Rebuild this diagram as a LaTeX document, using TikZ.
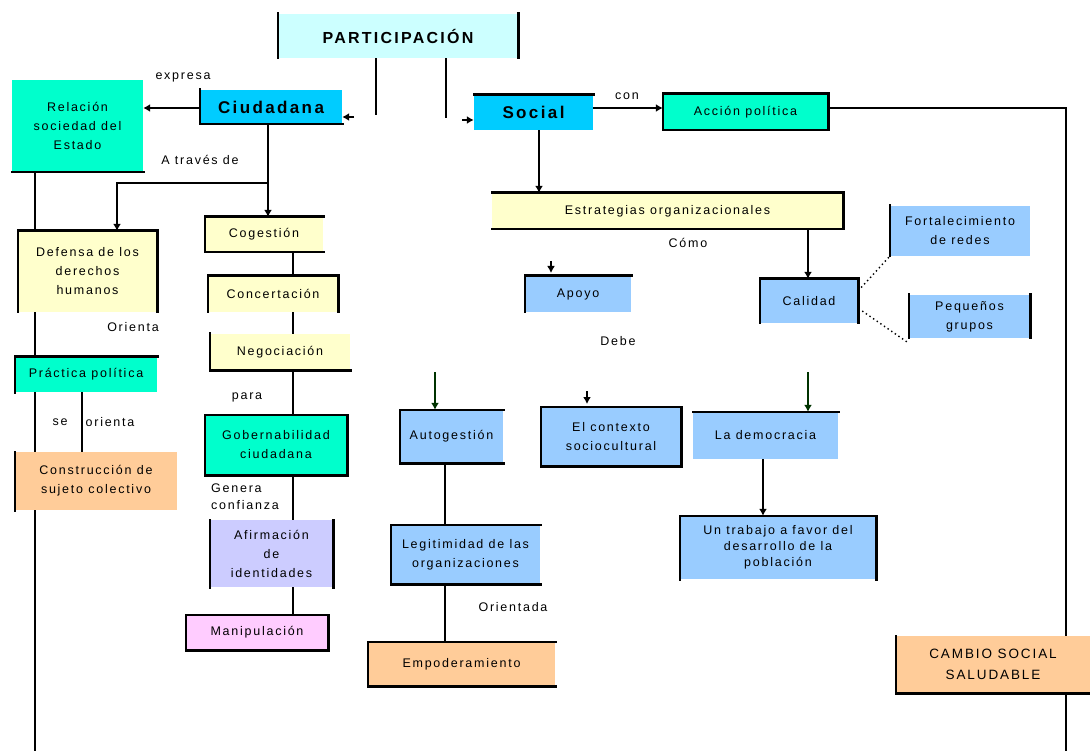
\documentclass[tikz,border=0pt]{standalone}
\usepackage{fontspec}
\setmainfont{Liberation Sans}[LetterSpace=14]
\usetikzlibrary{arrows.meta,backgrounds}
\definecolor{skyc}{HTML}{00CCFF}
\definecolor{aqua}{HTML}{00FFCC}
\definecolor{paleyel}{HTML}{FFFFCC}
\definecolor{peach}{HTML}{FFCC99}
\definecolor{lav}{HTML}{CCCCFF}
\definecolor{pinkb}{HTML}{FFCCFF}
\definecolor{lblue}{HTML}{99CCFF}
\definecolor{palecyan}{HTML}{CCFFFF}
\definecolor{dgreen}{HTML}{003300}
% box: fill colour, name, centre, width, height, text
\newcommand\bx[6]{\node[box,fill=#1,minimum width=#4pt,minimum height=#5pt] (#2) at (#3) {#6};}
% single border sides of a box
\newcommand\sideL[1]{\draw[bd] (#1.north west) -- (#1.south west);}
\newcommand\sideR[1]{\draw[bd] (#1.north east) -- (#1.south east);}
\newcommand\sideT[1]{\draw[bd] (#1.north west) -- (#1.north east);}
\newcommand\sideB[1]{\draw[bd] (#1.south west) -- (#1.south east);}
\newcommand\sideAll[1]{\draw[bd] (#1.north west) rectangle (#1.south east);}
\begin{document}
\begin{tikzpicture}[x=1pt,y=-1pt,
  box/.style={rectangle,inner sep=2pt,align=center,font=\fontsize{12.5}{19}\selectfont},
  bd/.style={line width=2.6pt,line cap=rect},
  conn/.style={line width=2.4pt},
  arr/.style={conn,-{Latex[length=7pt,width=8pt]}},
  garr/.style={arr,draw=dgreen},
  dots/.style={line width=1.4pt,dash pattern=on 1.4pt off 3pt},
  lab/.style={font=\fontsize{12.5}{17}\selectfont,inner sep=0pt,align=left}]
\useasboundingbox (0,0) rectangle (1090,751);

% ---- boxes ----
\bx{palecyan}{part}{398,36}{240}{44}{\fontsize{16}{18}\selectfont\bfseries PARTICIPACIÓN}
\bx{skyc}{ciud}{271,107}{142}{34}{\fontsize{17}{20}\selectfont\bfseries Ciudadana}
\bx{aqua}{rel}{77.5,126}{131}{92}{Relación\\sociedad del\\Estado}
\bx{paleyel}{def}{87.5,271.5}{139}{81}{Defensa de los\\derechos\\humanos}
\bx{aqua}{prac}{86,374.5}{142}{35}{Práctica política}
\bx{peach}{cons}{96,481}{162}{58}{Construcción de\\sujeto colectivo}
\bx{paleyel}{coge}{264,234.5}{118}{35}{Cogestión}
\bx{paleyel}{conc}{273,294}{130}{36}{Concertación}
\bx{paleyel}{nego}{280,352}{140}{36}{Negociación}
\bx{aqua}{gobe}{276,445}{142}{60}{Gobernabilidad\\ciudadana}
\bx{lav}{afir}{271.5,553.5}{123}{67}{Afirmación\\de\\identidades}
\bx{pinkb}{mani}{257,632.5}{142}{35}{Manipulación}
\bx{skyc}{soci}{533.5,112.5}{119}{35}{\fontsize{17}{20}\selectfont\bfseries Social}
\bx{aqua}{acci}{745.5,112}{165}{36}{Acción política}
\bx{paleyel}{estr}{667.5,211}{351}{36}{Estrategias organizacionales}
\bx{lblue}{cali}{809,301}{98}{44}{Calidad}
\bx{lblue}{fort}{960,231}{140}{50}{Fortalecimiento\\de redes}
\bx{lblue}{pequ}{969.5,316.5}{121}{43}{Pequeños\\grupos}
\bx{lblue}{apoy}{578,294}{106}{36}{Apoyo}
\bx{lblue}{auto}{451.5,436.5}{103}{53}{Autogestión}
\bx{lblue}{cont}{611,436.5}{140}{59}{El contexto\\sociocultural}
\bx{lblue}{demo}{765.5,435.5}{145}{47}{La democracia}
\bx{lblue}{legi}{465.5,554.5}{149}{59}{Legitimidad de las\\organizaciones}
\bx{peach}{empo}{461.5,664}{187}{44}{Empoderamiento}
\node[box,fill=lblue,minimum width=196pt,minimum height=63pt,font=\fontsize{12.5}{16}\selectfont] (trab) at (778,547.5) {Un trabajo a favor del\\desarrollo de la\\población};
\node[box,fill=peach,minimum width=194pt,minimum height=57pt,font=\fontsize{13.5}{21}\selectfont] (camb) at (993,664.5) {CAMBIO SOCIAL\\SALUDABLE};

% ---- box borders ----
\sideL{part}\sideR{part}
\sideL{ciud}\sideB{ciud}
\sideB{rel}
\sideL{def}\sideT{def}\sideR{def}
\sideT{prac}\sideL{prac}
\sideL{cons}
\sideL{coge}\sideT{coge}\sideB{coge}
\sideL{conc}\sideT{conc}\sideR{conc}
\sideL{nego}\sideB{nego}
\sideAll{gobe}
\sideL{afir}\sideR{afir}
\sideAll{mani}
\sideT{soci}
\sideAll{acci}
\sideT{estr}\sideR{estr}\sideB{estr}
\sideL{cali}\sideT{cali}\sideR{cali}
\sideL{fort}
\sideL{pequ}\sideR{pequ}
\sideL{apoy}\sideT{apoy}
\sideL{auto}\sideT{auto}\sideB{auto}
\sideAll{cont}
\sideT{demo}
\sideL{legi}\sideT{legi}\sideB{legi}
\sideL{empo}\sideT{empo}\sideB{empo}
\sideT{trab}\sideL{trab}\sideR{trab}
\sideL{camb}\sideB{camb}

% ---- free ends of connectors ----
\coordinate (pL) at (376,115);
\coordinate (pR) at (446,118);
\coordinate (cdTip) at (354,117);
\coordinate (soTip) at (462,120);
\coordinate (apA) at (551,261);
\coordinate (apB) at (551,273);
\coordinate (ctA) at (587,391);
\coordinate (ctB) at (587,404);
\coordinate (auA) at (435,372);
\coordinate (deA) at (808,372);
\coordinate (split) at (268,183);
\coordinate (leftBot) at (35,751);
\coordinate (rightTop) at (1066,108);
\coordinate (rightBot) at (1066,751);

% ---- connectors, kept behind the boxes ----
\begin{scope}[on background layer]
  \fill[white] (0,0) rectangle (1090,751);
  \draw[conn] (part.south -| pL) -- (pL);
  \draw[conn] (part.south -| pR) -- (pR);
  \draw[arr] (cdTip) -- (cdTip -| ciud.east);
  \draw[arr] (soTip) -- (soTip -| soci.west);
  \draw[arr] (ciud.west |- 0,108) -- (rel.east |- 0,108);
  \draw[arr] (ciud.south -| split) -- (coge.north -| split);
  \draw[arr] (split) -- (117,183) -- (def.north -| 117,0);
  \draw[conn] (rel.south -| leftBot) -- (leftBot);
  \draw[conn] (prac.south -| 82,0) -- (cons.north -| 82,0);
  \draw[conn] (coge.south -| 293,0) -- (conc.north -| 293,0);
  \draw[conn] (conc.south -| 293,0) -- (nego.north -| 293,0);
  \draw[conn] (nego.south -| 293,0) -- (gobe.north -| 293,0);
  \draw[conn] (gobe.south -| 293,0) -- (afir.north -| 293,0);
  \draw[conn] (afir.south -| 293,0) -- (mani.north -| 293,0);
  \draw[arr] (soci.east |- 0,108) -- (acci.west |- 0,108);
  \draw[conn] (acci.east |- rightTop) -- (rightTop) -- (rightBot);
  \draw[arr] (soci.south -| 539,0) -- (estr.north -| 539,0);
  \draw[arr] (estr.south -| 808,0) -- (cali.north -| 808,0);
  \draw[dots] (cali.north east) ++(0,12) -- (fort.south west);
  \draw[dots] (cali.east) ++(4,10) -- ([yshift=-5pt]pequ.south west);
  \draw[arr] (apA) -- (apB);
  \draw[arr] (ctA) -- (ctB);
  \draw[garr] (auA) -- (auA |- auto.north);
  \draw[garr] (deA) -- (deA |- demo.north);
  \draw[conn] (auto.south -| 445,0) -- (legi.north -| 445,0);
  \draw[conn] (legi.south -| 445,0) -- (empo.north -| 445,0);
  \draw[arr] (demo.south -| 763,0) -- (trab.north -| 763,0);
\end{scope}

% ---- connector labels ----
\node[lab] (lExpresa) at (183,77) {expresa};
\node[lab] (lTraves) at (200,160) {A través de};
\node[lab] (lOrienta) at (133,327) {Orienta};
\node[lab] (lSe) at (60,422) {se};
\node[lab] (lOrienta2) at (110,422) {orienta};
\node[lab] (lPara) at (247,397) {para};
\node[lab,anchor=west] (lGenera) at (211,497) {Genera\\confianza};
\node[lab] (lCon) at (627,96) {con};
\node[lab] (lComo) at (688,243) {Cómo};
\node[lab] (lDebe) at (618,341) {Debe};
\node[lab] (lOrientada) at (513,607) {Orientada};
\end{tikzpicture}
\end{document}
